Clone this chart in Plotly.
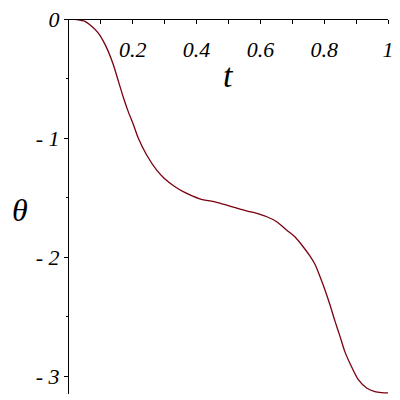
import plotly.graph_objects as go

# curve
t_vals = [0.0, 0.025, 0.05, 0.071, 0.092, 0.108, 0.123, 0.139, 0.155, 0.170,
          0.186, 0.202, 0.217, 0.243, 0.275, 0.299, 0.33, 0.358, 0.41, 0.463,
          0.515, 0.536, 0.578, 0.62, 0.651, 0.682, 0.708, 0.734, 0.755, 0.771,
          0.787, 0.803, 0.818, 0.834, 0.85, 0.865, 0.881, 0.907, 0.933, 0.959,
          0.98, 1.0]
theta_vals = [0.0, -0.005, -0.02, -0.061, -0.118, -0.188, -0.272, -0.384, -0.524, -0.655,
              -0.78, -0.888, -1.0, -1.14, -1.27, -1.34, -1.405, -1.45, -1.51, -1.54,
              -1.58, -1.597, -1.625, -1.661, -1.703, -1.773, -1.829, -1.913, -1.99, -2.06,
              -2.165, -2.28, -2.40, -2.54, -2.67, -2.796, -2.894, -3.03, -3.10, -3.13,
              -3.138, -3.14]

x_ticks = [0.2, 0.4, 0.6, 0.8, 1.0]
x_labels = ["<i>0.2</i>", "<i>0.4</i>", "<i>0.6</i>", "<i>0.8</i>", "<i>1</i>"]
y_ticks = [0, -1, -2, -3]
y_labels = ["<i>0</i>", "- <i>1</i>", "- <i>2</i>", "- <i>3</i>"]

serif = "Liberation Serif, Times New Roman, serif"

# the page puts the figure 8px in from the top-left corner, margins allow for that
fig = go.Figure()
fig.add_trace(go.Scatter(x=t_vals, y=theta_vals, mode="lines",
                         line=dict(color="#7a0010", width=1.3, shape="spline", smoothing=0.8)))

fig.update_layout(
    width=400, height=400,
    margin=dict(l=61, r=20, t=11, b=14),
    paper_bgcolor="white", plot_bgcolor="white",
    showlegend=False,
    font=dict(family=serif, size=22, color="black"),
    xaxis=dict(range=[0, 1], anchor="free", position=1, side="bottom", automargin=False,
               showgrid=False, zeroline=False, showline=True, linecolor="black", linewidth=1,
               ticks="outside", ticklen=4, tickcolor="black",
               tickvals=x_ticks, ticktext=x_labels, ticklabelstandoff=7,
               ticklabeloverflow="allow",
               tickfont=dict(family=serif, size=22),
               minor=dict(ticks="outside", ticklen=4, tickcolor="black",
                          tickvals=[0.1, 0.3, 0.5, 0.7, 0.9])),
    yaxis=dict(range=[-3.15, 0], automargin=False, showgrid=False, zeroline=False,
               showline=True, linecolor="black", linewidth=1,
               ticks="outside", ticklen=4, tickcolor="black",
               tickvals=y_ticks, ticktext=y_labels, ticklabelstandoff=0,
               ticklabeloverflow="allow",
               tickfont=dict(family=serif, size=22),
               minor=dict(ticks="outside", ticklen=2, tickcolor="black",
                          tickvals=[-0.5, -1.5, -2.5])),
    annotations=[
        dict(text="<i>t</i>", x=(229 - 69) / 319, y=(394 - 75) / 375,
             xref="paper", yref="paper", xanchor="center", yanchor="middle",
             showarrow=False, font=dict(family=serif, size=34)),
        dict(text="<i>θ</i>", x=(20 - 69) / 319, y=(394 - 210) / 375,
             xref="paper", yref="paper", xanchor="center", yanchor="middle",
             showarrow=False, font=dict(family=serif, size=32)),
    ],
)

fig.write_html("out.html")
